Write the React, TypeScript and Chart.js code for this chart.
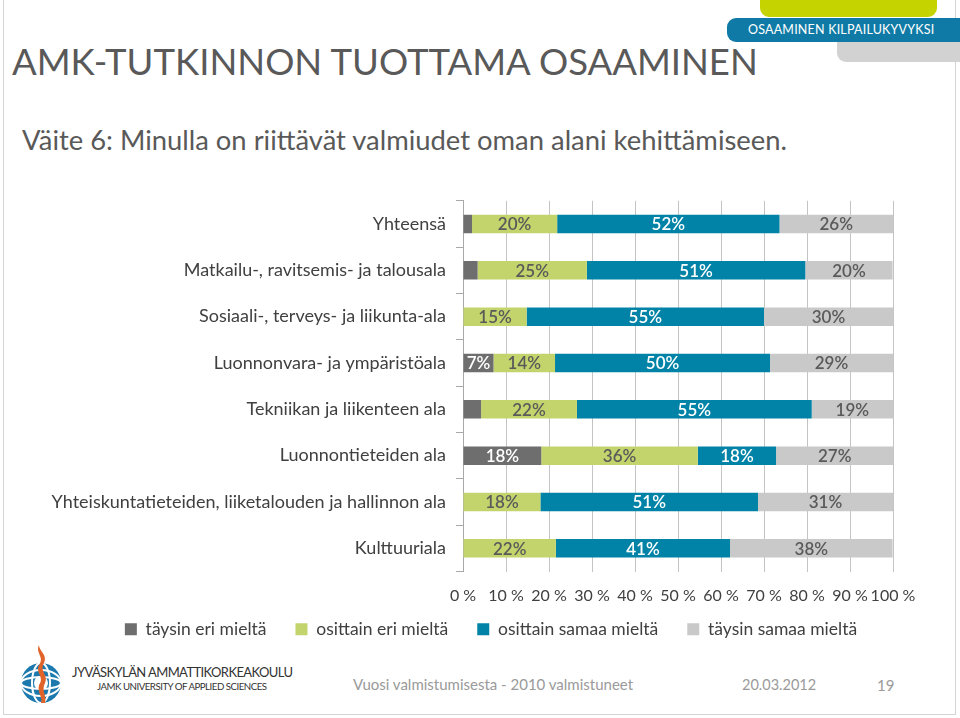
import React, { useEffect, useRef } from "react";
import { Chart, registerables } from "chart.js";

Chart.register(...registerables);

const categories = [
  "Yhteensä",
  "Matkailu-, ravitsemis- ja talousala",
  "Sosiaali-, terveys- ja liikunta-ala",
  "Luonnonvara- ja ympäristöala",
  "Tekniikan ja liikenteen ala",
  "Luonnontieteiden ala",
  "Yhteiskuntatieteiden, liiketalouden ja hallinnon ala",
  "Kulttuuriala",
];
const seriesNames = [
  "täysin eri mieltä",
  "osittain eri mieltä",
  "osittain samaa mieltä",
  "täysin samaa mieltä",
];
const taysinEri = [2.1, 3.4, 0, 7.1, 4.2, 18.2, 0, 0];
const osittainEri = [19.8, 25.4, 14.8, 14.3, 22.3, 36.4, 18.0, 21.6];
const osittainSamaa = [51.7, 50.8, 55.2, 50.0, 54.6, 18.2, 50.6, 40.5];
const taysinSamaa = [26.4, 20.3, 30.0, 28.6, 18.9, 27.3, 31.4, 37.8];
const seriesColors = ["#6e6e6e", "#c3d46c", "#0083a7", "#c9c9c9"];
const labelColors = ["#ffffff", "#5a5a5a", "#ffffff", "#5a5a5a"];
const xMin = 0;
const xMax = 100;
const xStep = 10;

const FONT = "Lato, 'Open Sans', sans-serif";

const barLabels = {
  id: "barLabels",
  afterDatasetsDraw(chart: any) {
    const ctx = chart.ctx;
    ctx.save();
    ctx.font = "600 17px " + FONT;
    ctx.textAlign = "center";
    ctx.textBaseline = "middle";
    chart.data.datasets.forEach((ds: any, di: number) => {
      const meta = chart.getDatasetMeta(di);
      if (meta.hidden) return;
      meta.data.forEach((bar: any, i: number) => {
        const v = ds.data[i];
        if (v < 5) return;
        const p = bar.getProps(["x", "y", "base"], true);
        ctx.fillStyle = labelColors[di];
        ctx.fillText(Math.round(v) + "%", (p.x + p.base) / 2, p.y + 1);
      });
    });
    ctx.restore();
  },
};

// moves the legend box up so it sits closer under the axis labels
const legendShift = {
  id: "legendShift",
  afterLayout(chart: any) {
    const l = chart.legend;
    if (l) {
      l.top -= 16;
      l.bottom -= 16;
    }
  },
};

function BarChart() {
  const ref = useRef<HTMLCanvasElement>(null);
  useEffect(() => {
    if (!ref.current) return;
    const values = [taysinEri, osittainEri, osittainSamaa, taysinSamaa];
    const chart = new Chart(ref.current, {
      type: "bar",
      data: {
        labels: categories,
        datasets: seriesNames.map((name, i) => ({
          label: name,
          data: values[i],
          backgroundColor: seriesColors[i],
          borderWidth: 0,
          categoryPercentage: 0.4,
          barPercentage: 1,
          xAxisID: "x",
          yAxisID: "y",
        })),
      },
      options: {
        indexAxis: "y",
        animation: false,
        responsive: false,
        layout: { padding: { top: 14, left: 22, right: 0, bottom: 0 } },
        scales: {
          x: {
            stacked: true,
            min: xMin,
            max: xMax,
            ticks: {
              stepSize: xStep,
              padding: 15,
              maxRotation: 0,
              minRotation: 0,
              autoSkip: false,
              color: "#404040",
              font: { family: FONT, size: 16 },
              callback: (v: any) => v + " %",
            },
            grid: { color: "#c4c4c4", drawTicks: false },
            border: { display: false },
            afterFit: (s: any) => {
              s.height = 36;
            },
          },
          y: {
            stacked: true,
            ticks: {
              color: "#404040",
              padding: 10,
              font: { family: FONT, size: 18 },
            },
            grid: {
              drawOnChartArea: false,
              tickLength: 7,
              color: "#a8a8a8",
            },
            border: { color: "#a8a8a8" },
            afterFit: (s: any) => {
              s.width = 441;
            },
          },
          yR: {
            type: "category",
            position: "right",
            labels: categories,
            ticks: { display: false },
            grid: { display: false },
            border: { display: false },
            afterFit: (s: any) => {
              s.width = 67;
            },
          },
        },
        plugins: {
          legend: {
            position: "bottom",
            labels: {
              boxWidth: 12,
              boxHeight: 12,
              padding: 29,
              color: "#404040",
              font: { family: FONT, size: 17.5 },
            },
          },
          tooltip: { enabled: false },
        },
      },
      plugins: [barLabels, legendShift],
    } as any);
    return () => chart.destroy();
  }, []);
  return (
    <canvas
      ref={ref}
      width={960}
      height={484}
      style={{ position: "absolute", left: 0, top: 180, width: 960, height: 484 }}
    />
  );
}

function Logo() {
  return (
    <svg
      width={50}
      height={64}
      viewBox="0 0 50 64"
      style={{ position: "absolute", left: 17, top: 643 }}
    >
      <circle cx={24} cy={40} r={20} fill="#1c79ad" />
      <ellipse cx={24} cy={40} rx={20} ry={6} fill="none" stroke="#fff" strokeWidth={2} />
      <ellipse cx={24} cy={40} rx={20} ry={13} fill="none" stroke="#fff" strokeWidth={2} />
      <ellipse cx={24} cy={40} rx={9} ry={20} fill="none" stroke="#fff" strokeWidth={2} />
      <circle cx={24} cy={40} r={7} fill="#fff" />
      <path
        d="M22 2 C18 10 28 14 22 22 C18 30 28 34 22 42 C20 50 26 54 24 60 L28 60 C30 52 24 48 28 40 C32 32 22 28 27 20 C31 12 22 8 22 2 Z"
        fill="#e0642a"
      />
    </svg>
  );
}

export default function App() {
  const grey = "#595959";
  return (
    <div
      style={{
        position: "absolute",
        left: 0,
        top: 0,
        width: 960,
        height: 718,
        overflow: "hidden",
        background: "#ffffff",
        fontFamily: FONT,
      }}
    >
      <div
        style={{
          position: "absolute",
          left: 3,
          top: -2,
          width: 953,
          height: 717,
          borderLeft: "1px solid #d4d4d4",
          borderRight: "1px solid #d4d4d4",
          borderBottom: "1px solid #d4d4d4",
          boxSizing: "border-box",
        }}
      />
      <div
        style={{
          position: "absolute",
          left: 760,
          top: -10,
          width: 177,
          height: 27,
          background: "#c5d300",
          borderRadius: 9,
        }}
      />
      <div
        style={{
          position: "absolute",
          left: 837,
          top: 30,
          width: 140,
          height: 32,
          background: "#d2d2d2",
          borderRadius: 9,
        }}
      />
      <div
        style={{
          position: "absolute",
          left: 727,
          top: 18,
          width: 250,
          height: 24,
          background: "#0f7aa5",
          borderRadius: 9,
        }}
      />
      <div
        style={{
          position: "absolute",
          left: 748,
          top: 18,
          height: 24,
          lineHeight: "24px",
          color: "#ffffff",
          fontSize: 12.5,
          letterSpacing: 0.2,
          whiteSpace: "nowrap",
        }}
      >
        OSAAMINEN KILPAILUKYVYKSI
      </div>
      <div
        style={{
          position: "absolute",
          left: 12,
          top: 39,
          fontSize: 36.5,
          lineHeight: "44px",
          color: grey,
          whiteSpace: "nowrap",
        }}
      >
        AMK-TUTKINNON TUOTTAMA OSAAMINEN
      </div>
      <div
        style={{
          position: "absolute",
          left: 22,
          top: 124,
          fontSize: 27.4,
          lineHeight: "32px",
          color: grey,
          whiteSpace: "nowrap",
        }}
      >
        Väite 6: Minulla on riittävät valmiudet oman alani kehittämiseen.
      </div>
      <BarChart />
      <Logo />
      <div
        style={{
          position: "absolute",
          left: 72,
          top: 664,
          fontSize: 13,
          color: "#333",
          whiteSpace: "nowrap",
          letterSpacing: -0.6,
        }}
      >
        JYVÄSKYLÄN AMMATTIKORKEAKOULU
      </div>
      <div
        style={{
          position: "absolute",
          left: 97,
          top: 680,
          fontSize: 9.7,
          color: "#333",
          whiteSpace: "nowrap",
          letterSpacing: -0.5,
        }}
      >
        JAMK UNIVERSITY OF APPLIED SCIENCES
      </div>
      <div
        style={{
          position: "absolute",
          left: 353,
          top: 675,
          fontSize: 15,
          color: "#9a9a9a",
          whiteSpace: "nowrap",
        }}
      >
        Vuosi valmistumisesta - 2010 valmistuneet
      </div>
      <div
        style={{
          position: "absolute",
          left: 742,
          top: 676,
          fontSize: 14.5,
          color: "#9a9a9a",
          whiteSpace: "nowrap",
        }}
      >
        20.03.2012
      </div>
      <div
        style={{
          position: "absolute",
          left: 877,
          top: 676,
          fontSize: 15,
          color: "#9a9a9a",
          whiteSpace: "nowrap",
        }}
      >
        19
      </div>
    </div>
  );
}
